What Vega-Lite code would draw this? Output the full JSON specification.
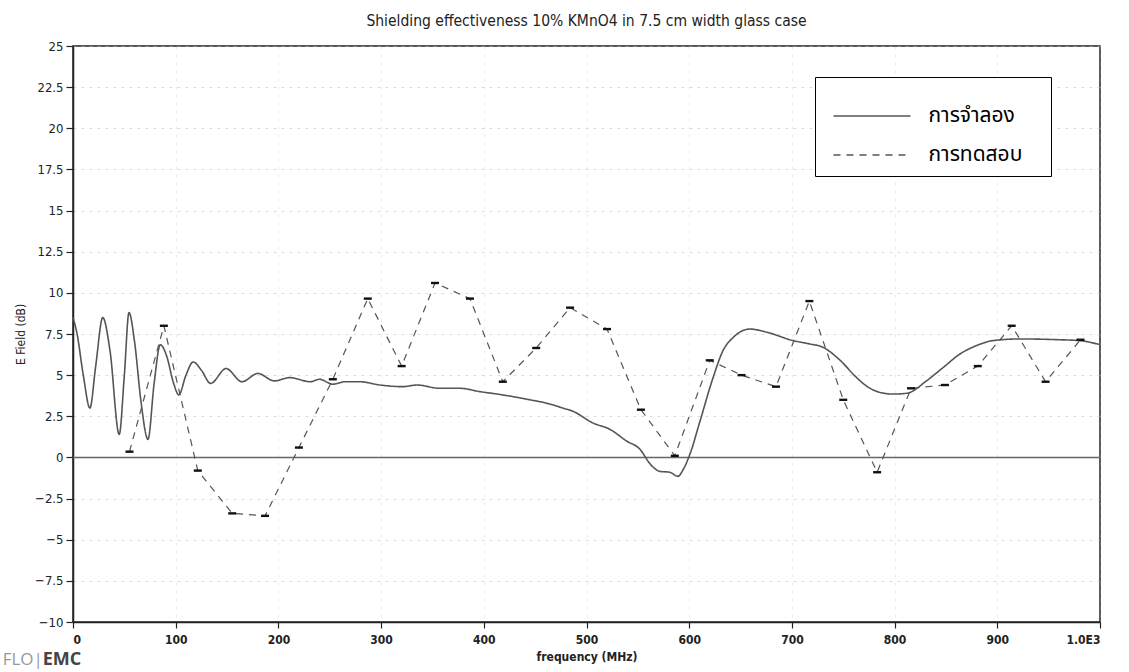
{
  "$schema": "https://vega.github.io/schema/vega-lite/v6.json",
  "autosize": {"type": "none"},
  "padding": {"left": 73, "top": 46, "right": 29, "bottom": 50},
  "width": 1027,
  "height": 576,
  "background": "white",
  "title": {
    "text": "Shielding effectiveness 10% KMnO4 in 7.5 cm width glass case",
    "font": "'DejaVu Sans Condensed', 'Liberation Sans Narrow', 'Liberation Sans', sans-serif",
    "fontSize": 15.5,
    "fontWeight": "normal",
    "color": "#222",
    "anchor": "middle",
    "offset": 11
  },
  "config": {
    "view": {"stroke": "#222", "strokeWidth": 1.5},
    "font": "'Liberation Sans', sans-serif",
    "axis": {
      "domainColor": "#222",
      "domainWidth": 1.5,
      "tickColor": "#222",
      "tickWidth": 1.2,
      "labelColor": "#222",
      "titleColor": "#222",
      "gridColor": "#bbb",
      "gridDash": [3, 5],
      "gridOpacity": 0.5,
      "labelFont": "'DejaVu Sans Condensed', 'Liberation Sans Narrow', 'Liberation Sans', sans-serif",
      "titleFont": "'DejaVu Sans Condensed', 'Liberation Sans Narrow', 'Liberation Sans', sans-serif"
    }
  },
  "datasets": {
    "sim": [
      {"f": 0, "e": 8.5, "series": "การจำลอง"},
      {"f": 4, "e": 7.5, "series": "การจำลอง"},
      {"f": 10, "e": 5.0, "series": "การจำลอง"},
      {"f": 16.5, "e": 3.0, "series": "การจำลอง"},
      {"f": 22, "e": 5.5, "series": "การจำลอง"},
      {"f": 29, "e": 8.5, "series": "การจำลอง"},
      {"f": 36, "e": 6.5, "series": "การจำลอง"},
      {"f": 45, "e": 1.4, "series": "การจำลอง"},
      {"f": 50, "e": 5.0, "series": "การจำลอง"},
      {"f": 54.5, "e": 8.8, "series": "การจำลอง"},
      {"f": 60, "e": 7.0, "series": "การจำลอง"},
      {"f": 66, "e": 3.5, "series": "การจำลอง"},
      {"f": 73, "e": 1.1, "series": "การจำลอง"},
      {"f": 79, "e": 4.5, "series": "การจำลอง"},
      {"f": 85, "e": 6.85, "series": "การจำลอง"},
      {"f": 91, "e": 6.2, "series": "การจำลอง"},
      {"f": 98, "e": 4.5, "series": "การจำลอง"},
      {"f": 103, "e": 3.8, "series": "การจำลอง"},
      {"f": 110, "e": 5.0, "series": "การจำลอง"},
      {"f": 117, "e": 5.8, "series": "การจำลอง"},
      {"f": 125, "e": 5.3, "series": "การจำลอง"},
      {"f": 134, "e": 4.5, "series": "การจำลอง"},
      {"f": 149, "e": 5.4, "series": "การจำลอง"},
      {"f": 164.5, "e": 4.6, "series": "การจำลอง"},
      {"f": 180, "e": 5.1, "series": "การจำลอง"},
      {"f": 196, "e": 4.65, "series": "การจำลอง"},
      {"f": 211, "e": 4.85, "series": "การจำลอง"},
      {"f": 231, "e": 4.6, "series": "การจำลอง"},
      {"f": 240, "e": 4.75, "series": "การจำลอง"},
      {"f": 253, "e": 4.45, "series": "การจำลอง"},
      {"f": 265, "e": 4.6, "series": "การจำลอง"},
      {"f": 279, "e": 4.6, "series": "การจำลอง"},
      {"f": 299, "e": 4.4, "series": "การจำลอง"},
      {"f": 321, "e": 4.3, "series": "การจำลอง"},
      {"f": 335, "e": 4.4, "series": "การจำลอง"},
      {"f": 357, "e": 4.2, "series": "การจำลอง"},
      {"f": 377, "e": 4.2, "series": "การจำลอง"},
      {"f": 396, "e": 4.0, "series": "การจำลอง"},
      {"f": 413, "e": 3.85, "series": "การจำลอง"},
      {"f": 428, "e": 3.7, "series": "การจำลอง"},
      {"f": 445, "e": 3.5, "series": "การจำลอง"},
      {"f": 461, "e": 3.3, "series": "การจำลอง"},
      {"f": 477, "e": 3.0, "series": "การจำลอง"},
      {"f": 487, "e": 2.8, "series": "การจำลอง"},
      {"f": 506, "e": 2.1, "series": "การจำลอง"},
      {"f": 523, "e": 1.7, "series": "การจำลอง"},
      {"f": 539, "e": 1.0, "series": "การจำลอง"},
      {"f": 552, "e": 0.5, "series": "การจำลอง"},
      {"f": 562, "e": -0.4, "series": "การจำลอง"},
      {"f": 571.5, "e": -0.85, "series": "การจำลอง"},
      {"f": 581, "e": -0.9, "series": "การจำลอง"},
      {"f": 589, "e": -1.15, "series": "การจำลอง"},
      {"f": 594, "e": -0.75, "series": "การจำลอง"},
      {"f": 601, "e": 0.25, "series": "การจำลอง"},
      {"f": 610.5, "e": 2.2, "series": "การจำลอง"},
      {"f": 623, "e": 4.8, "series": "การจำลอง"},
      {"f": 633, "e": 6.5, "series": "การจำลอง"},
      {"f": 643, "e": 7.3, "series": "การจำลอง"},
      {"f": 659, "e": 7.8, "series": "การจำลอง"},
      {"f": 676, "e": 7.6, "series": "การจำลอง"},
      {"f": 701, "e": 7.1, "series": "การจำลอง"},
      {"f": 717, "e": 6.9, "series": "การจำลอง"},
      {"f": 730, "e": 6.7, "series": "การจำลอง"},
      {"f": 747, "e": 5.9, "series": "การจำลอง"},
      {"f": 763, "e": 4.85, "series": "การจำลอง"},
      {"f": 776, "e": 4.2, "series": "การจำลอง"},
      {"f": 786, "e": 3.95, "series": "การจำลอง"},
      {"f": 798, "e": 3.85, "series": "การจำลอง"},
      {"f": 812, "e": 3.9, "series": "การจำลอง"},
      {"f": 831, "e": 4.65, "series": "การจำลอง"},
      {"f": 847, "e": 5.45, "series": "การจำลอง"},
      {"f": 864, "e": 6.3, "series": "การจำลอง"},
      {"f": 880, "e": 6.8, "series": "การจำลอง"},
      {"f": 896, "e": 7.1, "series": "การจำลอง"},
      {"f": 922, "e": 7.2, "series": "การจำลอง"},
      {"f": 961, "e": 7.15, "series": "การจำลอง"},
      {"f": 980, "e": 7.1, "series": "การจำลอง"},
      {"f": 1000, "e": 6.85, "series": "การจำลอง"}
    ],
    "meas": [
      {"f": 55, "e": 0.35, "series": "การทดสอบ"},
      {"f": 88.5, "e": 8.0, "series": "การทดสอบ"},
      {"f": 121.5, "e": -0.8, "series": "การทดสอบ"},
      {"f": 155, "e": -3.4, "series": "การทดสอบ"},
      {"f": 187, "e": -3.55, "series": "การทดสอบ"},
      {"f": 220, "e": 0.6, "series": "การทดสอบ"},
      {"f": 253, "e": 4.75, "series": "การทดสอบ"},
      {"f": 287, "e": 9.65, "series": "การทดสอบ"},
      {"f": 320, "e": 5.55, "series": "การทดสอบ"},
      {"f": 352.5, "e": 10.6, "series": "การทดสอบ"},
      {"f": 386.5, "e": 9.65, "series": "การทดสอบ"},
      {"f": 418.5, "e": 4.6, "series": "การทดสอบ"},
      {"f": 451, "e": 6.65, "series": "การทดสอบ"},
      {"f": 484, "e": 9.1, "series": "การทดสอบ"},
      {"f": 520, "e": 7.8, "series": "การทดสอบ"},
      {"f": 553, "e": 2.9, "series": "การทดสอบ"},
      {"f": 586, "e": 0.1, "series": "การทดสอบ"},
      {"f": 620, "e": 5.9, "series": "การทดสอบ"},
      {"f": 651, "e": 5.0, "series": "การทดสอบ"},
      {"f": 684.5, "e": 4.3, "series": "การทดสอบ"},
      {"f": 717, "e": 9.5, "series": "การทดสอบ"},
      {"f": 750, "e": 3.5, "series": "การทดสอบ"},
      {"f": 783, "e": -0.9, "series": "การทดสอบ"},
      {"f": 816, "e": 4.2, "series": "การทดสอบ"},
      {"f": 849, "e": 4.4, "series": "การทดสอบ"},
      {"f": 881, "e": 5.55, "series": "การทดสอบ"},
      {"f": 914, "e": 8.0, "series": "การทดสอบ"},
      {"f": 947, "e": 4.6, "series": "การทดสอบ"},
      {"f": 981, "e": 7.15, "series": "การทดสอบ"}
    ],
    "one": [{"k": 1}]
  },
  "encoding": {
    "x": {
      "type": "quantitative",
      "scale": {"domain": [0, 1000], "nice": false, "zero": false},
      "axis": {
        "title": "frequency (MHz)",
        "values": [0, 100, 200, 300, 400, 500, 600, 700, 800, 900, 1000],
        "labelExpr": "datum.value == 1000 ? '1.0E3' : datum.label",
        "labelFontSize": 12,
        "labelFontWeight": "bold",
        "labelPadding": 6,
        "tickSize": 6,
        "titleFontSize": 12,
        "titleFontWeight": "bold",
        "titlePadding": 6,
        "grid": true,
        "gridOpacity": 0.3
      }
    },
    "y": {
      "type": "quantitative",
      "scale": {"domain": [-10, 25], "nice": false, "zero": false},
      "axis": {
        "title": "E Field (dB)",
        "values": [-10, -7.5, -5, -2.5, 0, 2.5, 5, 7.5, 10, 12.5, 15, 17.5, 20, 22.5, 25],
        "labelExpr": "datum.value % 1 == 0 ? format(datum.value, 'd') : format(datum.value, '.1f')",
        "labelFontSize": 13,
        "labelPadding": 3,
        "tickSize": 7,
        "titleFontSize": 12,
        "titleFontWeight": "normal",
        "titlePadding": 7,
        "grid": true
      }
    }
  },
  "layer": [
    {
      "data": {"name": "one"},
      "mark": {"type": "rule", "color": "#666", "strokeWidth": 1.5},
      "encoding": {"y": {"datum": 0, "type": "quantitative"}, "x": {"datum": 0, "type": "quantitative"}, "x2": {"datum": 1000}}
    },
    {
      "data": {"name": "sim"},
      "mark": {"type": "line", "color": "#555", "strokeWidth": 1.6, "interpolate": "monotone"},
      "encoding": {
        "x": {"field": "f", "type": "quantitative"},
        "y": {"field": "e", "type": "quantitative"},
        "strokeDash": {
          "field": "series",
          "type": "nominal",
          "scale": {"domain": ["การจำลอง", "การทดสอบ"], "range": [[1, 0], [7, 6]]},
          "legend": {
            "title": ".",
            "titleOrient": "right",
            "titleFontSize": 2,
            "titleOpacity": 0,
            "titlePadding": 17,
            "orient": "none",
            "legendX": 742,
            "legendY": 31,
            "direction": "vertical",
            "strokeColor": "#000",
            "fillColor": "white",
            "padding": 10.5,
            "symbolOffset": 18,
            "symbolType": "M-1.4,0L1.4,0",
            "symbolSize": 3025,
            "symbolStrokeWidth": 1.3,
            "symbolStrokeColor": "#222",
            "symbolFillColor": "transparent",
            "labelFontSize": 21,
            "labelFont": "'Noto Sans Thai', 'Tahoma', 'DejaVu Sans', sans-serif",
            "labelColor": "#000",
            "labelOffset": 28,
            "rowPadding": 0,
            "labelLimit": 400
          }
        }
      }
    },
    {
      "data": {"name": "meas"},
      "mark": {"type": "line", "color": "#555", "strokeWidth": 1.2, "strokeDash": [6, 4]},
      "encoding": {
        "x": {"field": "f", "type": "quantitative"},
        "y": {"field": "e", "type": "quantitative"},
        "strokeDash": {"field": "series", "type": "nominal"}
      }
    },
    {
      "data": {"name": "meas"},
      "mark": {"type": "point", "shape": "M-1,-0.3L1,-0.3L1,0.3L-1,0.3Z", "size": 64, "filled": true, "color": "#111", "opacity": 1},
      "encoding": {
        "x": {"field": "f", "type": "quantitative"},
        "y": {"field": "e", "type": "quantitative"}
      }
    },
    {
      "data": {"name": "one"},
      "mark": {"type": "text", "text": "FLO|", "align": "left", "baseline": "middle", "fontSize": 17, "color": "#999", "font": "'Open Sans', sans-serif", "clip": false},
      "encoding": {
        "x": {"datum": -68.5, "type": "quantitative"},
        "y": {"datum": -12.3, "type": "quantitative"}
      }
    },
    {
      "data": {"name": "one"},
      "mark": {"type": "text", "text": "EMC", "align": "left", "baseline": "middle", "fontSize": 18, "fontWeight": "bold", "color": "#444", "font": "'Open Sans', sans-serif", "clip": false},
      "encoding": {
        "x": {"datum": -29.5, "type": "quantitative"},
        "y": {"datum": -12.3, "type": "quantitative"}
      }
    }
  ]
}
